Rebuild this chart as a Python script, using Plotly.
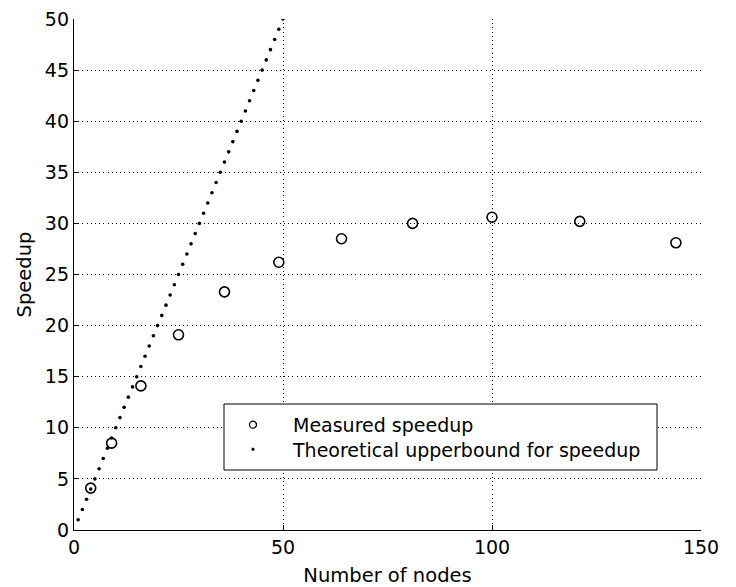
import plotly.graph_objects as go

nodes = [4, 9, 16, 25, 36, 49, 64, 81, 100, 121, 144]
measured = [4.1, 8.5, 14.1, 19.1, 23.3, 26.2, 28.5, 30.0, 30.6, 30.2, 28.1]
theory_x = list(range(1, 51))
theory_y = list(range(1, 51))

x_ticks = [0, 50, 100, 150]
y_ticks = [0, 5, 10, 15, 20, 25, 30, 35, 40, 45, 50]

legend_labels = ["Measured speedup", "Theoretical upperbound for speedup"]

FONT = "DejaVu Sans, Liberation Sans, Arial, sans-serif"

# plot-area geometry (pixels) used to place the hand-drawn legend
W, H = 736, 587
ML, MR, MT, MB = 74, 35, 19, 57
PW, PH = W - ML - MR, H - MT - MB


def px(xp):
    return (xp - ML) / PW


def py(yp):
    return (H - MB - yp) / PH


fig = go.Figure()
fig.add_trace(go.Scatter(
    x=nodes, y=measured, mode="markers", name=legend_labels[0],
    marker=dict(symbol="circle-open", size=10, color="black", line=dict(width=1.6, color="black")),
))
fig.add_trace(go.Scatter(
    x=theory_x, y=theory_y, mode="markers", name=legend_labels[1],
    marker=dict(symbol="circle", size=3.6, color="black"),
))

axis_common = dict(
    showgrid=True, gridcolor="black", griddash="1px,3.2px", gridwidth=1,
    showline=True, linecolor="black", linewidth=1.3,
    ticks="inside", ticklen=5, tickcolor="black", tickwidth=1,
    zeroline=False, mirror=False, automargin=False,
    tickfont=dict(family=FONT, size=19, color="black"),
    title_font=dict(family=FONT, size=19.5, color="black"),
)

fig.update_xaxes(range=[0, 150], tickvals=x_ticks, title_text="Number of nodes",
                 title_standoff=11, **axis_common)
fig.update_yaxes(range=[0, 50], tickvals=y_ticks, title_text="Speedup",
                 title_standoff=8, **axis_common)

LEG_TOP, LEG_BOT = 404, 470
LEG_MID = (LEG_TOP + LEG_BOT) / 2
LINE = 1.3 * 19

shapes = [
    dict(type="rect", xref="paper", yref="paper",
         x0=px(224), x1=px(657), y0=py(LEG_BOT), y1=py(LEG_TOP),
         line=dict(color="black", width=1), fillcolor="white", layer="above"),
    dict(type="circle", xref="paper", yref="paper", xsizemode="pixel", ysizemode="pixel",
         xanchor=px(253), yanchor=py(LEG_MID - LINE / 2), x0=-3.5, x1=3.5, y0=-3.5, y1=3.5,
         line=dict(color="black", width=1.3), layer="above"),
    dict(type="circle", xref="paper", yref="paper", xsizemode="pixel", ysizemode="pixel",
         xanchor=px(253), yanchor=py(LEG_MID + LINE / 2), x0=-1.4, x1=1.4, y0=-1.4, y1=1.4,
         line=dict(color="black", width=0.5), fillcolor="black", layer="above"),
]
annotations = [
    dict(text="<br>".join(legend_labels), xref="paper", yref="paper",
         x=px(291), y=py(LEG_MID), xanchor="left", yanchor="middle", align="left",
         showarrow=False, borderpad=0,
         font=dict(family=FONT, size=19, color="black")),
]

fig.update_layout(
    width=W, height=H,
    margin=dict(l=ML, r=MR, t=MT, b=MB, autoexpand=False),
    plot_bgcolor="white", paper_bgcolor="white",
    font=dict(family=FONT, color="black"),
    showlegend=False,
    shapes=shapes,
    annotations=annotations,
)

fig.write_html("out.html")
